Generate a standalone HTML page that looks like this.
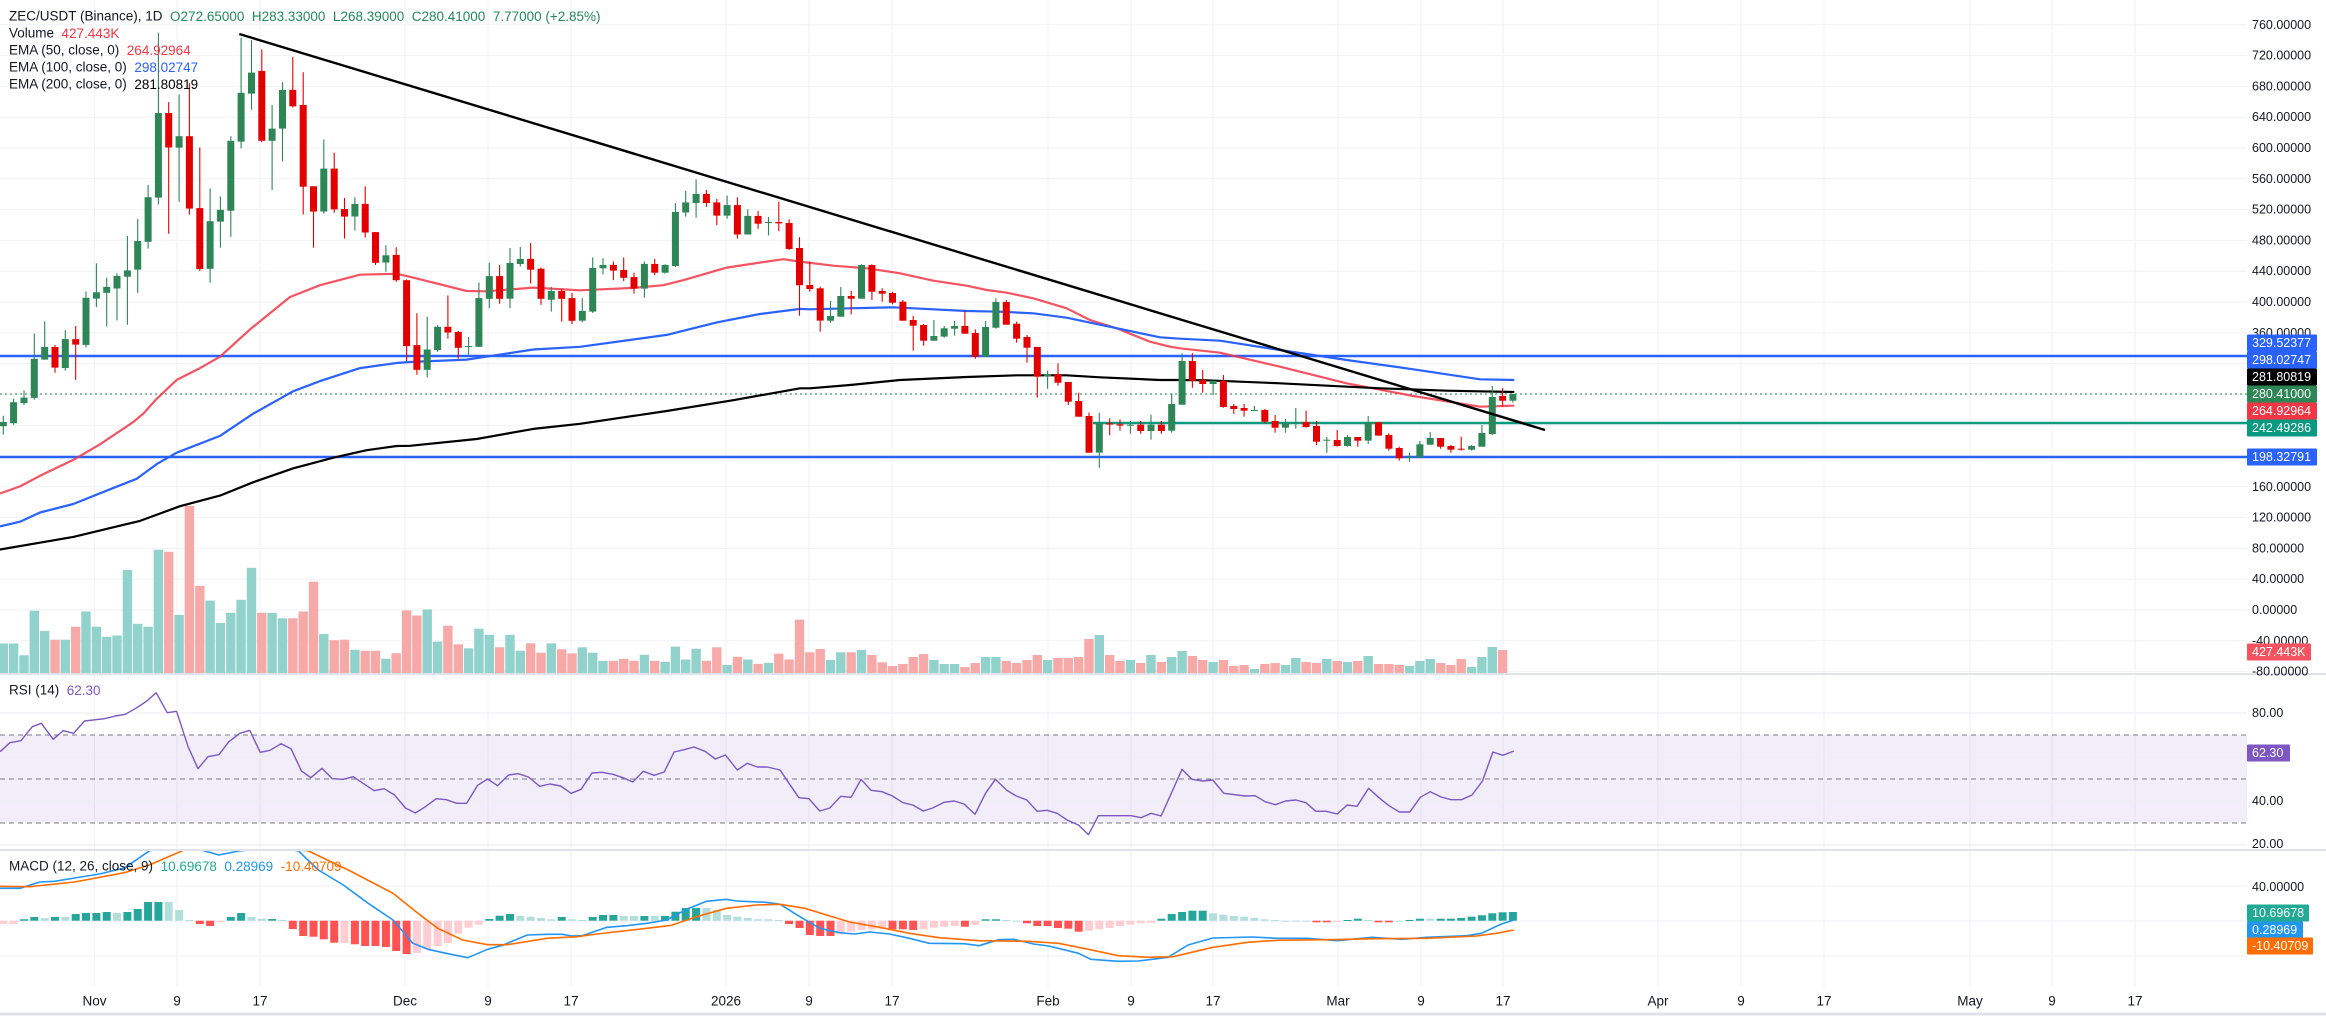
<!DOCTYPE html>
<html><head><meta charset="utf-8">
<style>
html,body{margin:0;padding:0;background:#fff;}
svg{display:block;font-family:"Liberation Sans",sans-serif;}
</style></head>
<body>
<svg id="s" width="2326" height="1016" xmlns="http://www.w3.org/2000/svg"></svg>
<script>
var S=document.getElementById('s');var out=[];
function P(s){out.push(s);}
var GX=[94.5,177,260,405,488,571,726,809,892,1048,1131,1213,1338,1421,1503,1658,1741,1824,1970,2052,2135];
var GL=["Nov","9","17","Dec","9","17","2026","9","17","Feb","9","17","Mar","9","17","Apr","9","17","May","9","17"];
P('<rect x="0" y="0" width="2326" height="1016" fill="#fff"/>');
GX.forEach(function(x){P('<line x1="'+x+'" y1="0" x2="'+x+'" y2="987" stroke="#f0f2f6" stroke-width="1"/>');});
function py(p){return 610-0.77*p;}
for(var p=760;p>=-80;p-=40){P('<line x1="0" y1="'+py(p)+'" x2="2247" y2="'+py(p)+'" stroke="#f0f2f6"/>');}
P('<rect x="0" y="735" width="2247" height="88" fill="#7e57c2" fill-opacity="0.1"/>');
[713,757,801,845].forEach(function(y){P('<line x1="0" y1="'+y+'" x2="2247" y2="'+y+'" stroke="#eceef3"/>');});
[735,779,823].forEach(function(y){P('<line x1="0" y1="'+y+'" x2="2247" y2="'+y+'" stroke="#787b86" stroke-dasharray="5,4"/>');});
[886,921,956].forEach(function(y){P('<line x1="0" y1="'+y+'" x2="2247" y2="'+y+'" stroke="#f0f2f6"/>');});
P('<line x1="0" y1="674" x2="2326" y2="674" stroke="#e0e3eb" stroke-width="2"/>');
P('<line x1="0" y1="850" x2="2326" y2="850" stroke="#e0e3eb" stroke-width="2"/>');
P('<line x1="0" y1="1014" x2="2326" y2="1014" stroke="#e0e3eb" stroke-width="3"/>');

var Z={a:[0,20,3,2.3758],b:[400,150,3,2.958],c:[800,250,3,3],d:[1180,320,3,3]};
function ty(z,v){return Z[z][1]+v/Z[z][3];}
function tx(z,v){return Z[z][0]+v/Z[z][2];}
function cx(i){return 3.3+10.34*i;}

var VA=[1482,'g',1482,'g',1510,'g',1404,'g',1452,'g',1473,'r',1473,'g',1442,'r',1406,'g',1442,'g',1466,'g',1463,'g',1307,'g',1435,'g',1442,'g',1259,'g',1264,'r',1414,'g',1155,'r',1345,'r',1380,'g',1433,'g',1409,'g',1378,'g',1302,'g',1409,'r',1409,'g',1422,'g',1422,'r',1406,'r',1335,'r',1459,'g',1474,'r',1473,'r',1497,'g',1499,'r',1499,'r',1518,'g',1505,'r'];
var VB=[1363,'r',1378,'r',1360,'g',1455,'g',1408,'r',1463,'r',1475,'g',1417,'g',1435,'g',1472,'r',1435,'g',1482,'g',1460,'r',1488,'r',1460,'g',1478,'r',1490,'r',1472,'g',1488,'g',1512,'g',1512,'r',1506,'r',1512,'r',1494,'g',1512,'r',1515,'g',1470,'g',1508,'g',1476,'g',1512,'r',1472,'r',1524,'g',1500,'r',1508,'g',1521,'r',1518,'g',1491,'r',1508,'r',1390,'r'];
var VC=[1210,'r',1200,'r',1233,'g',1210,'g',1210,'r',1203,'g',1218,'r',1240,'r',1251,'r',1245,'r',1224,'r',1215,'r',1233,'g',1245,'g',1245,'g',1254,'r',1242,'r',1224,'g',1224,'g',1236,'r',1242,'r',1233,'r',1218,'r',1233,'g',1227,'r',1227,'r',1224,'r',1170,'r',1158,'g',1218,'r',1236,'r',1233,'g',1242,'r',1218,'g',1239,'r',1224,'g'];
var VD=[996,'g',1011,'r',1023,'r',1029,'g',1023,'r',1041,'r',1038,'r',1050,'g',1035,'r',1032,'r',1038,'g',1017,'g',1029,'r',1032,'r',1020,'g',1026,'r',1029,'g',1026,'r',1011,'g',1035,'r',1035,'r',1038,'r',1041,'g',1026,'g',1020,'g',1032,'r',1038,'r',1020,'r',1044,'g',1014,'g',984,'g',993,'r'];
function vol(arr,start,z,base){for(var k=0;k<arr.length;k+=2){var i=start+k/2;var h=(base-arr[k])/Z[z][3];var x=cx(i);
P('<rect x="'+(x-4.7).toFixed(1)+'" y="'+(673-h).toFixed(1)+'" width="9.4" height="'+h.toFixed(1)+'" fill="'+(arr[k+1]=='g'?'#92d2cc':'#f7a9a7')+'"/>');}}
vol(VA,0,'a',1552);vol(VB,39,'b',1548);vol(VC,78,'c',1272);vol(VD,114,'d',1062);

P('<line x1="0" y1="356" x2="2247" y2="356" stroke="#2962ff" stroke-width="2.5"/>');
P('<line x1="0" y1="457" x2="2247" y2="457" stroke="#2962ff" stroke-width="2.5"/>');
P('<line x1="1093" y1="423" x2="2247" y2="423" stroke="#089981" stroke-width="2.5"/>');
P('<line x1="0" y1="394" x2="2247" y2="394" stroke="#2e7d4f" stroke-width="1" stroke-dasharray="2,3"/>');

function line(parts,color,w,op){var pts=[];parts.forEach(function(pp){var z=pp[0],a=pp[1];for(var k=0;k<a.length;k+=2){pts.push(tx(z,a[k]).toFixed(1)+','+ty(z,a[k+1]).toFixed(1));}});
P('<polyline points="'+pts.join(' ')+'" fill="none" stroke="'+color+'" stroke-width="'+w+'" stroke-opacity="'+(op||1)+'" stroke-linejoin="round"/>');}
line([['a',[0,1125,60,1108,120,1083,220,1045,300,1008,400,955,430,935,470,900,530,855,600,827,660,800,750,735,870,658,960,630,1080,605,1190,603]],
['b',[30,375,200,417,260,418,400,407,540,415,700,408,790,400,850,385,980,348,1100,330,1150,323,1200,330]],
['c',[100,47,200,55,300,70,400,92,500,107,560,120,620,128,700,145,800,175,870,210,950,235,1050,275,1110,290,1140,295]],
['d',[120,98,300,140,500,190,700,228,900,260,1003,257]]],'#f23645',2.2,0.85);
line([['a',[0,1203,60,1192,120,1170,220,1150,330,1115,410,1090,470,1055,530,1028,660,988,760,935,880,882,960,858,1080,827,1190,815]],
['b',[30,627,200,620,400,590,540,582,800,547,950,510,1080,485,1200,470]],
['c',[30,178,150,175,280,172,500,183,600,185,700,190,800,203,880,220,1000,245,1080,262,1140,266]],
['d',[120,62,300,90,500,120,700,148,900,178,1003,180]]],'#2962ff',2.2);
line([['a',[0,1258,220,1228,420,1190,540,1155,660,1130,760,1098,880,1065,1000,1040,1100,1022,1190,1012]],
['b',[30,875,230,855,400,825,540,810,800,772,1000,740,1200,705]],
['c',[30,415,150,405,300,390,500,381,650,376,800,376,900,382,1080,390,1140,390]],
['d',[80,181,300,190,600,205,800,212,1003,216]]],'#000',2.2);

var C={a:["g,955,965,940,985","g,908,958,900,962","g,897,910,880,915","g,805,898,745,902","g,777,807,716,807","r,777,826,772,838","g,758,827,737,833","r,758,771,727,855","g,660,772,645,778","g,647,662,578,682","g,634,648,612,728","g,608,638,602,714","g,595,610,513,724","g,525,593,473,648","g,421,527,392,543","g,221,422,30,438","r,221,303,195,508","g,276,303,177,432","r,276,448,150,462","r,447,592,303,596","g,478,591,400,624","g,451,479,419,541","g,287,453,276,515","g,173,289,42,305","g,125,175,48,213","r,121,287,70,290","g,258,287,202,404","g,166,258,148,336","r,166,205,88,208","r,202,396,124,462","r,395,455,395,541","g,353,455,284,460","r,353,450,315,458","r,449,467,423,519","g,437,467,421,500","r,437,505,395,517","r,504,577,504,582","g,559,576,535,598","r,558,618,540,622"],
b:["r,385,580,383,625","r,577,650,483,665","g,590,650,493,673","g,523,592,518,597","r,523,540,430,558","r,538,585,535,617","g,580,582,553,605","g,438,582,392,583","g,373,440,333,468","r,373,440,340,455","g,334,440,290,468","g,322,337,287,345","r,322,354,275,395","r,351,440,348,458","g,417,443,405,478","r,417,440,410,508","r,438,505,423,515","g,476,505,438,510","g,349,478,318,482","g,340,350,320,368","r,340,357,330,385","r,355,378,318,388","r,376,410,363,425","g,337,410,330,437","r,337,363,322,370","g,340,363,338,366","g,183,343,157,346","g,155,185,121,197","g,130,157,87,200","r,130,157,118,168","r,155,194,145,222","g,163,194,135,203","r,163,250,140,262","g,195,250,175,250","r,195,218,180,233","g,213,215,198,253","r,213,217,153,240","r,216,293,205,296","r,290,400,258,490"],
c:["r,105,117,35,125","r,115,212,110,245","g,198,212,153,218","g,138,200,111,200","r,138,146,123,193","g,45,146,43,146","r,45,125,43,150","r,123,131,115,155","r,129,158,125,163","r,155,212,150,212","r,210,227,198,302","r,225,272,222,287","g,258,272,210,272","g,235,260,228,263","g,228,236,213,257","r,228,251,182,251","r,249,320,238,326","g,231,320,213,320","g,156,233,145,236","r,156,224,150,224","r,221,266,215,278","r,261,293,255,338","r,291,380,291,443","g,373,379,362,416","r,372,398,340,407","r,396,455,396,465","r,453,500,428,500","r,498,608,488,608","g,520,608,488,653","r,520,524,505,556","r,523,527,508,542","g,524,526,513,551","r,524,543,513,551","g,524,543,494,569","r,524,543,513,551","g,462,542,430,548","g,333,464,310,464","r,333,392,310,413"],
d:["r,180,192,150,218","g,182,192,182,225","r,182,261,165,263","r,258,267,252,282","r,264,272,252,290","g,270,272,258,272","r,270,305,267,310","r,303,323,285,338","g,308,323,297,338","g,306,308,264,326","r,306,321,272,323","r,318,365,303,375","g,359,361,351,398","r,360,378,330,380","g,351,378,345,380","r,351,362,351,380","g,307,362,288,372","r,307,347,307,347","r,345,386,340,392","r,384,415,380,422","g,410,412,398,425","g,373,412,363,412","g,354,374,336,374","r,354,380,354,386","r,378,389,375,398","r,386,389,350,392","g,378,389,375,392","g,339,380,315,380","g,231,342,198,345","r,228,242,204,260","g,222,242,222,248"]};
var starts={a:0,b:39,c:78,d:116};
['a','b','c','d'].forEach(function(z){C[z].forEach(function(s,k){var f=s.split(',');var i=starts[z]+k;var x=cx(i);
var col=f[0]=='g'?'#2e8555':'#e50000';
var bt=ty(z,+f[1]),bb=ty(z,+f[2]),wt=ty(z,+f[3]),wb=ty(z,+f[4]);if(bb-bt<1){bb=bt+1;}
P('<line x1="'+x.toFixed(1)+'" y1="'+wt.toFixed(1)+'" x2="'+x.toFixed(1)+'" y2="'+wb.toFixed(1)+'" stroke="'+col+'" stroke-width="1.1"/>');
P('<rect x="'+(x-3.5).toFixed(1)+'" y="'+bt.toFixed(1)+'" width="7" height="'+(bb-bt).toFixed(1)+'" fill="'+col+'"/>');});});

P('<line x1="239.3" y1="34" x2="1545" y2="430" stroke="#000" stroke-width="2.4"/>');

var R8=[0,245,20,218,42,212,65,170,83,160,107,208,127,182,148,190,170,153,210,146,232,138,252,133,275,113,295,93,314,68,336,128,355,124,378,230,398,296,418,260,440,254,460,215,482,190,502,181,523,247,543,241,565,221,585,236,606,303,625,323,647,295,668,326,690,328,710,320,752,362,772,356,793,375,815,414,835,429,855,410,877,386,897,389,918,400,938,400,960,346,980,327,1000,347,1022,315,1042,311,1062,321,1085,349,1105,342,1127,348,1148,370,1168,358,1190,309,1210,307,1232,313,1252,323,1272,336,1293,304,1315,316,1335,306,1355,246,1375,239,1395,231,1417,244,1438,267,1458,255,1482,300,1502,280,1522,291,1542,291,1568,300];
var R9=[18,340,38,383,58,386,80,423,100,414,122,379,143,382,163,328,183,361,205,365,226,378,247,398,267,405,288,423,307,414,330,397,350,393,370,402,392,433,413,370,433,328,455,360,475,378,496,390,517,424,537,421,557,430,578,451,600,465,620,494,640,437,706,437,726,443,746,430,766,438,786,372,808,298,828,328,850,333,870,330,892,370,935,378,955,377,975,395,996,404,1016,393,1037,390,1057,398,1077,424,1098,424,1120,432,1140,405,1160,409,1183,355,1203,382,1224,407,1245,426,1266,426,1287,382,1307,365,1329,381,1349,389,1370,389,1391,375,1412,333,1433,246,1453,256,1475,243];
function pl(arrs,color,w,clip){var pts=[];arrs.forEach(function(q){var x0=q[0],a=q[1];for(var k=0;k<a.length;k+=2){pts.push((x0+a[k]/2.01).toFixed(1)+','+(670+a[k+1]/3).toFixed(1));}});
P('<polyline points="'+pts.join(' ')+'" fill="none" stroke="'+color+'" stroke-width="'+w+'" stroke-linejoin="round"'+(clip?' clip-path="url(#mc)"':'')+'/>');}
pl([[0,R8],[780,R9]],'#7e57c2',1.4);

P('<defs><clipPath id="mc"><rect x="0" y="851" width="2247" height="136"/></clipPath></defs>');
var H8="r762 r762 G748 G741 g745 G741 g741 G732 G729 G729 G726 g729 G726 G717 G696 G696 g696 g720 g750 R762 R768 r757 G741 G729 g741 g746 G747 g750 R777 R798 R800 R808 R818 r819 R823 R828 R828 R831 R843 R852 r849 r837 r828 r819 r791 r773 r764 G747 G737 G732 g738 g740 g744 g748 G741 g748 g750 G741 G735 G735 g738 g738 G738 g738 G738 G725 G714 G714 g714 g720 g735 g740 g744 g748 g748";
var H9="g750 R762 R774 R795 R798 R798 r793 r785 r780 r778 r776 R778 R778 R780 r778 r773 r770 r768 R770 r765 G748 G748 g750 g754 R760 R768 R768 R774 R776 R785 r782 r778 r774 r768 r764 r760 r758 G746 G732 G726 G722 G722 g730 g734 g738 g740 g744 g748 g750 g752 g752 g752 R757 R757 r756 G750 G746 g750 R757 R757 g752 G750 G746 g746 G746 G746 G744 G740 G736 G730 G727 G726";
var HC={G:'#26a69a',g:'#b2dfdb',R:'#ff5252',r:'#ffcdd2'};
(H8.split(' ').concat(H9.split(' '))).forEach(function(s,i){if(i>146)return;var t=s[0],v=+s.slice(1);var y=670+v/3,z=920.7;var x=cx(i);
var y1=Math.min(y,z),h=Math.max(Math.abs(y-z),1);P('<rect x="'+(x-4).toFixed(1)+'" y="'+y1.toFixed(1)+'" width="8" height="'+h.toFixed(1)+'" fill="'+HC[t]+'"/>');});
pl([[0,[0,655,40,655,80,636,110,634,150,624,200,612,250,594,300,543,330,520,410,542,440,555,480,543,560,530,600,543,640,600,690,645,740,700,790,750,830,820,860,838,900,851,940,863,980,838,1010,826,1060,795,1100,793,1130,793,1150,798,1170,797,1220,772,1260,767,1300,760,1340,750,1380,718,1420,694,1460,688,1480,693,1540,697,1568,703]],
[780,[40,740,80,775,120,788,150,792,180,786,220,792,260,805,300,820,370,821,400,827,440,809,470,808,510,822,540,828,600,850,625,868,680,874,720,873,780,862,820,825,870,804,950,801,1000,805,1060,805,1120,812,1190,802,1250,808,1300,802,1380,797,1410,790,1450,762,1475,750]]],'#2196f3',1.6,true);
pl([[0,[0,649,60,650,150,636,250,608,300,585,370,540,420,530,480,525,560,530,620,543,700,600,790,670,840,730,880,775,930,810,980,824,1020,824,1100,805,1160,800,1200,792,1300,775,1350,766,1400,740,1460,715,1520,705,1568,703]],
[780,[50,715,100,738,140,756,200,772,260,790,320,803,400,812,500,814,560,820,620,838,680,857,740,862,790,860,870,832,940,817,1000,811,1100,809,1200,806,1300,805,1400,798,1440,790,1475,780]]],'#ff6d00',1.6,true);

function T(x,y,t,c,sz,anchor){P('<text x="'+x+'" y="'+y+'" fill="'+c+'" font-size="'+(sz||13)+'" dominant-baseline="central"'+(anchor?' text-anchor="'+anchor+'"':'')+'>'+t+'</text>');}
[760,720,680,640,600,560,520,480,440,400,360,160,120,80,40,0,-40,-80].forEach(function(p){T(2252,py(p),p.toFixed(5),'#131722',12.5);});
function box(y,t,bg,w){P('<rect x="2247" y="'+(y-8.5)+'" width="'+(w||70)+'" height="17" fill="'+bg+'" rx="1"/>');T(2252,y,t,'#fff',12.5);}
box(343,'329.52377','#2962ff');box(360,'298.02747','#2962ff');box(377,'281.80819','#000');box(394,'280.41000','#2e8555');
box(411,'264.92964','#f23645');box(428,'242.49286','#089981');box(457,'198.32791','#2962ff');box(652,'427.443K','#f7525f',64);
[[713,'80.00'],[801,'40.00'],[844,'20.00']].forEach(function(a){T(2252,a[0],a[1],'#131722',12.5);});
box(753,'62.30','#7e57c2',43);
T(2252,887,'40.00000','#131722',12.5);
box(913,'10.69678','#22ab94',62);box(930,'0.28969','#2196f3',56);box(946,'-10.40709','#ff6d00',66);
GX.forEach(function(x,k){T(x,1001,GL[k],'#131722',13.5,'middle');});
P('<text x="9" y="16" font-size="13.5" dominant-baseline="central" fill="#131722">ZEC/USDT (Binance), 1D <tspan fill="#22895b">&#160;O272.65000 &#160;H283.33000 &#160;L268.39000 &#160;C280.41000 &#160;7.77000 (+2.85%)</tspan></text>');
T(9,33,'Volume <tspan fill="#f23645">&#160;427.443K</tspan>','#131722',13.5);
T(9,50,'EMA (50, close, 0) <tspan fill="#f23645">&#160;264.92964</tspan>','#131722',13.5);
T(9,67,'EMA (100, close, 0) <tspan fill="#2962ff">&#160;298.02747</tspan>','#131722',13.5);
T(9,84,'EMA (200, close, 0) <tspan fill="#000">&#160;281.80819</tspan>','#131722',13.5);
T(9,690,'RSI (14) <tspan fill="#7e57c2">&#160;62.30</tspan>','#131722',13.5);
T(9,866,'MACD (12, 26, close, 9) <tspan fill="#22ab94">&#160;10.69678</tspan><tspan fill="#2196f3">&#160; 0.28969</tspan><tspan fill="#ff6d00">&#160; -10.40709</tspan>','#131722',13.5);
S.innerHTML=out.join('');
</script>
</body></html>
